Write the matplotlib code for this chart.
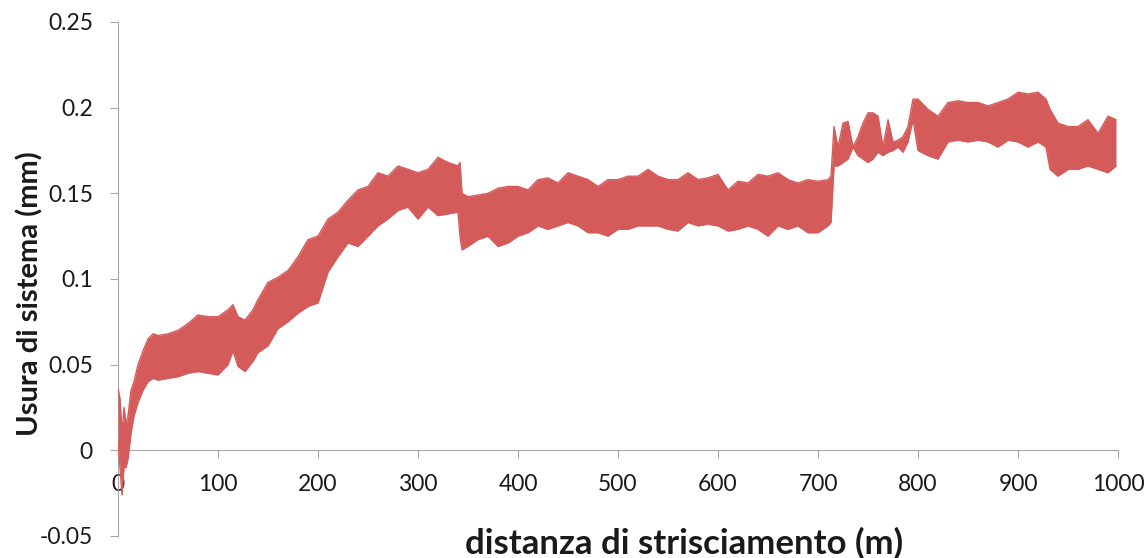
import matplotlib
matplotlib.use("Agg")
import matplotlib.pyplot as plt

# distance (m) at which the band envelope was read
distance = [0, 2, 4, 6, 8, 10, 13, 16, 20, 25, 30, 35, 40, 50, 60, 70, 80, 90, 100,
            110, 115, 120, 127, 135, 140, 150, 160, 170, 180, 190, 200, 210, 220,
            230, 240, 250, 260, 270, 280, 290, 300, 310, 320, 330, 340, 342, 344,
            350, 360, 370, 380, 390, 400, 410, 420, 430, 440, 450, 460, 470, 480,
            490, 500, 510, 520, 530, 540, 550, 560, 570, 580, 590, 600, 610, 620,
            630, 640, 650, 660, 670, 680, 690, 700, 710, 713, 716, 720, 725, 730,
            735, 740, 745, 750, 755, 760, 765, 770, 775, 780, 785, 790, 795, 800,
            810, 820, 830, 840, 850, 860, 870, 880, 890, 900, 910, 920, 928, 932,
            940, 950, 960, 970, 980, 990, 998]

# upper envelope of system wear (mm)
wear_high = [0.036, 0.030, 0.010, 0.025, 0.015, 0.020, 0.035, 0.040, 0.050, 0.058,
             0.065, 0.068, 0.067, 0.068, 0.070, 0.074, 0.079, 0.078, 0.078,
             0.082, 0.085, 0.078, 0.076, 0.082, 0.088, 0.098, 0.101, 0.105, 0.113,
             0.123, 0.125, 0.135, 0.139, 0.146, 0.152, 0.154, 0.162, 0.160, 0.166,
             0.164, 0.162, 0.164, 0.171, 0.168, 0.166, 0.168, 0.150,
             0.148, 0.149, 0.150, 0.153, 0.154, 0.154, 0.152, 0.158, 0.159, 0.156,
             0.162, 0.160, 0.158, 0.154, 0.158, 0.158, 0.160, 0.160, 0.164, 0.160,
             0.158, 0.158, 0.162, 0.158, 0.159, 0.161, 0.152, 0.157, 0.156, 0.161,
             0.160, 0.162, 0.158, 0.156, 0.158, 0.157, 0.158, 0.160, 0.189, 0.177,
             0.191, 0.192, 0.177, 0.183, 0.191, 0.197, 0.197, 0.195, 0.177, 0.193,
             0.180, 0.181, 0.183, 0.189, 0.205, 0.205, 0.199, 0.195, 0.203, 0.204,
             0.203, 0.203, 0.201, 0.203, 0.205, 0.209, 0.208, 0.209, 0.205, 0.199,
             0.191, 0.189, 0.189, 0.193, 0.185, 0.195, 0.193]

# lower envelope of system wear (mm)
wear_low = [0.005, -0.010, -0.026, -0.010, -0.010, -0.005, 0.010, 0.020, 0.028, 0.035,
            0.040, 0.042, 0.041, 0.042, 0.043, 0.045, 0.046, 0.045, 0.044,
            0.050, 0.058, 0.049, 0.046, 0.052, 0.057, 0.061, 0.071, 0.075, 0.080,
            0.084, 0.086, 0.104, 0.113, 0.121, 0.119, 0.125, 0.131, 0.135, 0.140,
            0.142, 0.135, 0.142, 0.137, 0.138, 0.139, 0.125, 0.117,
            0.119, 0.123, 0.125, 0.119, 0.121, 0.125, 0.127, 0.131, 0.129, 0.131,
            0.133, 0.131, 0.127, 0.127, 0.125, 0.129, 0.129, 0.131, 0.131, 0.131,
            0.129, 0.128, 0.133, 0.131, 0.132, 0.131, 0.128, 0.129, 0.131, 0.129,
            0.125, 0.131, 0.129, 0.131, 0.127, 0.127, 0.131, 0.133, 0.166, 0.166,
            0.168, 0.170, 0.177, 0.172, 0.170, 0.168, 0.170, 0.174, 0.172, 0.174,
            0.175, 0.177, 0.174, 0.180, 0.193, 0.175, 0.172, 0.170, 0.180, 0.181,
            0.180, 0.181, 0.180, 0.177, 0.181, 0.180, 0.177, 0.180, 0.177, 0.164,
            0.160, 0.164, 0.164, 0.166, 0.164, 0.162, 0.166]

x_ticks = [0, 100, 200, 300, 400, 500, 600, 700, 800, 900, 1000]
y_ticks = [-0.05, 0, 0.05, 0.1, 0.15, 0.2, 0.25]
y_tick_labels = ["-0.05", "0", "0.05", "0.1", "0.15", "0.2", "0.25"]

plt.rcParams['font.family'] = ['Lato', 'DejaVu Sans']

W, H = 1147, 558
fig = plt.figure(figsize=(W / 100, H / 100), dpi=100)
ax = fig.add_axes([118 / W, (H - 536) / H, 1000 / W, 514 / H])

red = '#d55a5a'
ax.fill_between(distance, wear_low, wear_high, color=red, linewidth=0, zorder=3)
ax.plot(distance, wear_high, color=red, linewidth=1.0, zorder=3)
ax.plot(distance, wear_low, color=red, linewidth=1.0, zorder=3)

ax.set_xlim(0, 1000)
ax.set_ylim(-0.05, 0.25)
ax.set_xticks(x_ticks)
ax.set_yticks(y_ticks)
ax.set_yticklabels(y_tick_labels)

grey = '#a6a6a6'
for s in ['top', 'right']:
    ax.spines[s].set_visible(False)
ax.spines['bottom'].set_position(('data', 0))
ax.spines['left'].set_color(grey)
ax.spines['bottom'].set_color(grey)
ax.tick_params(axis='both', direction='out', length=6, color=grey,
               labelsize=16.5, labelcolor='#1a1a1a')
ax.tick_params(axis='x', pad=11)
ax.tick_params(axis='y', pad=12)

fig.text(684 / W, 1 - 543 / H, 'distanza di strisciamento (m)', ha='center',
         va='center', fontsize=25, fontweight='bold', color='#1a1a1a')
fig.text(30 / W, 1 - 294 / H, 'Usura di sistema (mm)', ha='center',
         va='center', rotation=90, fontsize=21, fontweight='bold', color='#1a1a1a')

fig.savefig('out.png', dpi=100)
